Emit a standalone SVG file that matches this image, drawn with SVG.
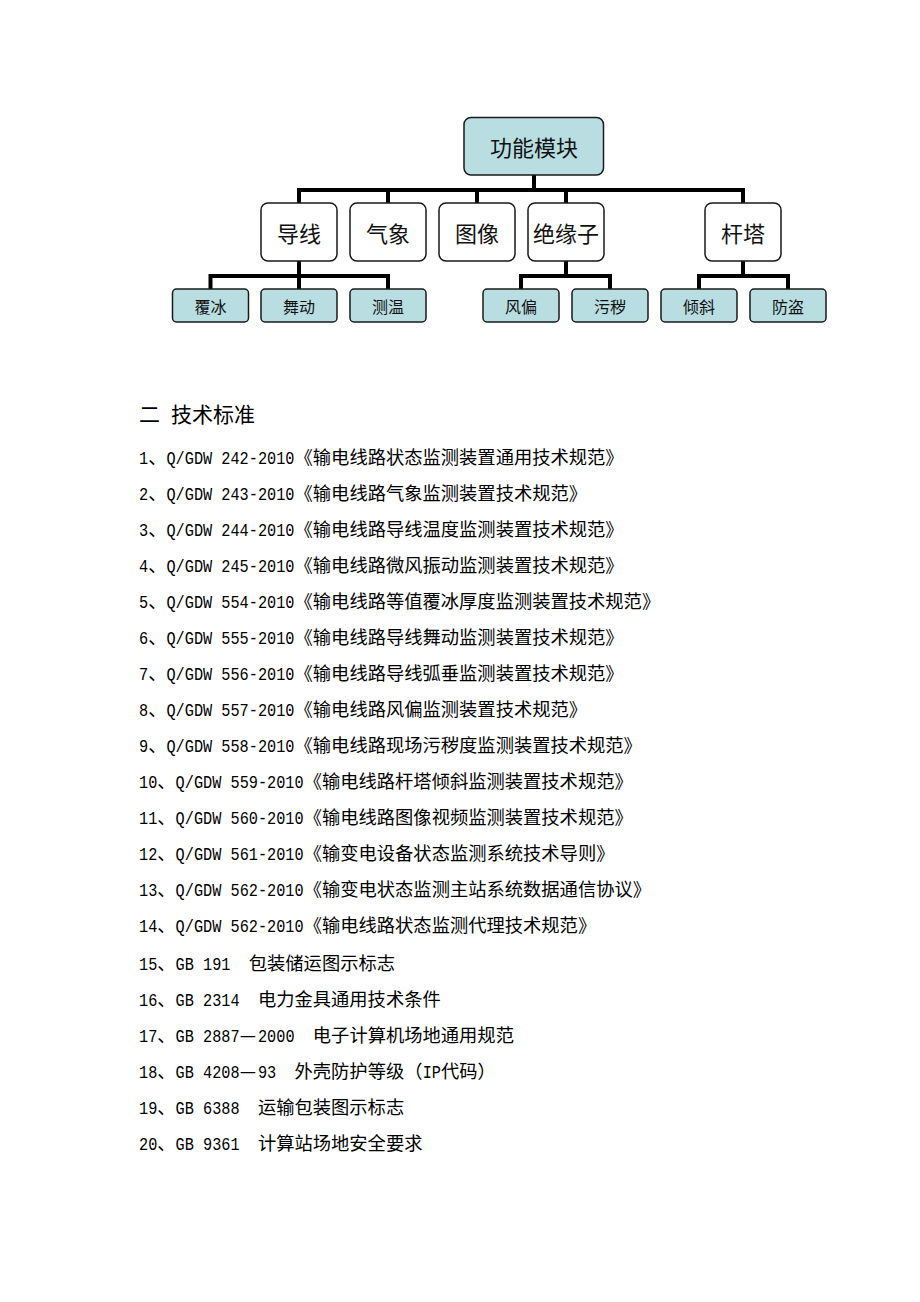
<svg xmlns="http://www.w3.org/2000/svg" width="920" height="1302" viewBox="0 0 920 1302">
<style>
.bg{fill:#ffffff}
.box{stroke:#1a1a1a;stroke-width:1.5}
.hl{fill:#b8dee2}
.wh{fill:#ffffff}
.t{font-family:"Noto Sans CJK SC",sans-serif;fill:#111;text-anchor:middle;dominant-baseline:central}
.t1{font-size:22px}
.t2{font-size:22px}
.t3{font-size:16px}
.con{stroke:#000;stroke-width:4;fill:none;stroke-linejoin:miter;stroke-linecap:butt}
.c{font-family:"Noto Sans CJK SC",sans-serif;font-size:18.3px;fill:#000}
.l{font-family:"Liberation Mono",monospace;font-size:19px;fill:#000}
.h{font-family:"Noto Sans CJK SC",sans-serif;font-size:21px;fill:#000}
</style>
<rect class="bg" x="0" y="0" width="920" height="1302"/>

<g id="connectors">
<path class="con" d="M534,175 V190"/>
<path class="con" d="M299,203 V190 H743 V203"/>
<path class="con" d="M388,190 V203"/>
<path class="con" d="M477,190 V203"/>
<path class="con" d="M566,190 V203"/>
<path class="con" d="M299,261 V289"/>
<path class="con" d="M210.5,289 V276 H388 V289"/>
<path class="con" d="M566,261 V276"/>
<path class="con" d="M521,289 V276 H610 V289"/>
<path class="con" d="M743,261 V276"/>
<path class="con" d="M699,289 V276 H788 V289"/>
</g>

<g id="n-root"><rect class="box hl" x="464" y="117.5" width="139.5" height="57.5" rx="7"/><text class="t t1" x="534" y="146">功能模块</text></g>

<g id="n-daoxian"><rect class="box wh" x="261" y="203" width="76" height="58" rx="7"/><text class="t t2" x="299" y="232">导线</text></g>
<g id="n-qixiang"><rect class="box wh" x="350" y="203" width="76" height="58" rx="7"/><text class="t t2" x="388" y="232">气象</text></g>
<g id="n-tuxiang"><rect class="box wh" x="439" y="203" width="76" height="58" rx="7"/><text class="t t2" x="477" y="232">图像</text></g>
<g id="n-jueyuanzi"><rect class="box wh" x="528" y="203" width="76" height="58" rx="7"/><text class="t t2" x="566" y="232">绝缘子</text></g>
<g id="n-ganta"><rect class="box wh" x="705" y="203" width="76" height="58" rx="7"/><text class="t t2" x="743" y="232">杆塔</text></g>

<g id="n-fubing"><rect class="box hl" x="172.5" y="289" width="76" height="33" rx="4"/><text class="t t3" x="210.5" y="305.5">覆冰</text></g>
<g id="n-wudong"><rect class="box hl" x="261" y="289" width="76" height="33" rx="4"/><text class="t t3" x="299" y="305.5">舞动</text></g>
<g id="n-cewen"><rect class="box hl" x="350" y="289" width="76" height="33" rx="4"/><text class="t t3" x="388" y="305.5">测温</text></g>
<g id="n-fengpian"><rect class="box hl" x="483" y="289" width="76" height="33" rx="4"/><text class="t t3" x="521" y="305.5">风偏</text></g>
<g id="n-wuhui"><rect class="box hl" x="572" y="289" width="76" height="33" rx="4"/><text class="t t3" x="610" y="305.5">污秽</text></g>
<g id="n-qingxie"><rect class="box hl" x="661" y="289" width="76" height="33" rx="4"/><text class="t t3" x="699" y="305.5">倾斜</text></g>
<g id="n-fangdao"><rect class="box hl" x="750" y="289" width="76" height="33" rx="4"/><text class="t t3" x="788" y="305.5">防盗</text></g>

<g id="heading">
<text class="h" y="422"><tspan x="139">二</tspan><tspan x="171">技术标准</tspan></text>
</g>

<g id="standards">
<g id="s1"><text class="l" transform="translate(139,464) scale(0.8026,1)">1</text><text class="c" x="148.15" y="464">、</text><text class="l" transform="translate(166.45,464) scale(0.8026,1)">Q/GDW 242-2010</text><text class="c" x="294.55" y="464">《输电线路状态监测装置通用技术规范》</text></g>
<g id="s2"><text class="l" transform="translate(139,500) scale(0.8026,1)">2</text><text class="c" x="148.15" y="500">、</text><text class="l" transform="translate(166.45,500) scale(0.8026,1)">Q/GDW 243-2010</text><text class="c" x="294.55" y="500">《输电线路气象监测装置技术规范》</text></g>
<g id="s3"><text class="l" transform="translate(139,536) scale(0.8026,1)">3</text><text class="c" x="148.15" y="536">、</text><text class="l" transform="translate(166.45,536) scale(0.8026,1)">Q/GDW 244-2010</text><text class="c" x="294.55" y="536">《输电线路导线温度监测装置技术规范》</text></g>
<g id="s4"><text class="l" transform="translate(139,572) scale(0.8026,1)">4</text><text class="c" x="148.15" y="572">、</text><text class="l" transform="translate(166.45,572) scale(0.8026,1)">Q/GDW 245-2010</text><text class="c" x="294.55" y="572">《输电线路微风振动监测装置技术规范》</text></g>
<g id="s5"><text class="l" transform="translate(139,608) scale(0.8026,1)">5</text><text class="c" x="148.15" y="608">、</text><text class="l" transform="translate(166.45,608) scale(0.8026,1)">Q/GDW 554-2010</text><text class="c" x="294.55" y="608">《输电线路等值覆冰厚度监测装置技术规范》</text></g>
<g id="s6"><text class="l" transform="translate(139,644) scale(0.8026,1)">6</text><text class="c" x="148.15" y="644">、</text><text class="l" transform="translate(166.45,644) scale(0.8026,1)">Q/GDW 555-2010</text><text class="c" x="294.55" y="644">《输电线路导线舞动监测装置技术规范》</text></g>
<g id="s7"><text class="l" transform="translate(139,680) scale(0.8026,1)">7</text><text class="c" x="148.15" y="680">、</text><text class="l" transform="translate(166.45,680) scale(0.8026,1)">Q/GDW 556-2010</text><text class="c" x="294.55" y="680">《输电线路导线弧垂监测装置技术规范》</text></g>
<g id="s8"><text class="l" transform="translate(139,716) scale(0.8026,1)">8</text><text class="c" x="148.15" y="716">、</text><text class="l" transform="translate(166.45,716) scale(0.8026,1)">Q/GDW 557-2010</text><text class="c" x="294.55" y="716">《输电线路风偏监测装置技术规范》</text></g>
<g id="s9"><text class="l" transform="translate(139,752) scale(0.8026,1)">9</text><text class="c" x="148.15" y="752">、</text><text class="l" transform="translate(166.45,752) scale(0.8026,1)">Q/GDW 558-2010</text><text class="c" x="294.55" y="752">《输电线路现场污秽度监测装置技术规范》</text></g>
<g id="s10"><text class="l" transform="translate(139,788) scale(0.8026,1)">10</text><text class="c" x="157.3" y="788">、</text><text class="l" transform="translate(175.6,788) scale(0.8026,1)">Q/GDW 559-2010</text><text class="c" x="303.7" y="788">《输电线路杆塔倾斜监测装置技术规范》</text></g>
<g id="s11"><text class="l" transform="translate(139,824) scale(0.8026,1)">11</text><text class="c" x="157.3" y="824">、</text><text class="l" transform="translate(175.6,824) scale(0.8026,1)">Q/GDW 560-2010</text><text class="c" x="303.7" y="824">《输电线路图像视频监测装置技术规范》</text></g>
<g id="s12"><text class="l" transform="translate(139,860) scale(0.8026,1)">12</text><text class="c" x="157.3" y="860">、</text><text class="l" transform="translate(175.6,860) scale(0.8026,1)">Q/GDW 561-2010</text><text class="c" x="303.7" y="860">《输变电设备状态监测系统技术导则》</text></g>
<g id="s13"><text class="l" transform="translate(139,896) scale(0.8026,1)">13</text><text class="c" x="157.3" y="896">、</text><text class="l" transform="translate(175.6,896) scale(0.8026,1)">Q/GDW 562-2010</text><text class="c" x="303.7" y="896">《输变电状态监测主站系统数据通信协议》</text></g>
<g id="s14"><text class="l" transform="translate(139,932) scale(0.8026,1)">14</text><text class="c" x="157.3" y="932">、</text><text class="l" transform="translate(175.6,932) scale(0.8026,1)">Q/GDW 562-2010</text><text class="c" x="303.7" y="932">《输电线路状态监测代理技术规范》</text></g>
<g id="s15"><text class="l" transform="translate(139,970) scale(0.8026,1)">15</text><text class="c" x="157.3" y="970">、</text><text class="l" transform="translate(175.6,970) scale(0.8026,1)">GB 191</text><text class="c" x="230.5" y="970">　包装储运图示标志</text></g>
<g id="s16"><text class="l" transform="translate(139,1006) scale(0.8026,1)">16</text><text class="c" x="157.3" y="1006">、</text><text class="l" transform="translate(175.6,1006) scale(0.8026,1)">GB 2314</text><text class="c" x="239.65" y="1006">　电力金具通用技术条件</text></g>
<g id="s17"><text class="l" transform="translate(139,1042) scale(0.8026,1)">17</text><text class="c" x="157.3" y="1042">、</text><text class="l" transform="translate(175.6,1042) scale(0.8026,1)">GB 2887</text><text class="c" x="239.65" y="1042">—</text><text class="l" transform="translate(257.95,1042) scale(0.8026,1)">2000</text><text class="c" x="294.55" y="1042">　电子计算机场地通用规范</text></g>
<g id="s18"><text class="l" transform="translate(139,1078) scale(0.8026,1)">18</text><text class="c" x="157.3" y="1078">、</text><text class="l" transform="translate(175.6,1078) scale(0.8026,1)">GB 4208</text><text class="c" x="239.65" y="1078">—</text><text class="l" transform="translate(257.95,1078) scale(0.8026,1)">93</text><text class="c" x="276.25" y="1078">　外壳防护等级（</text><text class="l" transform="translate(422.65,1078) scale(0.8026,1)">IP</text><text class="c" x="440.95" y="1078">代码）</text></g>
<g id="s19"><text class="l" transform="translate(139,1114) scale(0.8026,1)">19</text><text class="c" x="157.3" y="1114">、</text><text class="l" transform="translate(175.6,1114) scale(0.8026,1)">GB 6388</text><text class="c" x="239.65" y="1114">　运输包装图示标志</text></g>
<g id="s20"><text class="l" transform="translate(139,1150) scale(0.8026,1)">20</text><text class="c" x="157.3" y="1150">、</text><text class="l" transform="translate(175.6,1150) scale(0.8026,1)">GB 9361</text><text class="c" x="239.65" y="1150">　计算站场地安全要求</text></g>
</g>
</svg>
